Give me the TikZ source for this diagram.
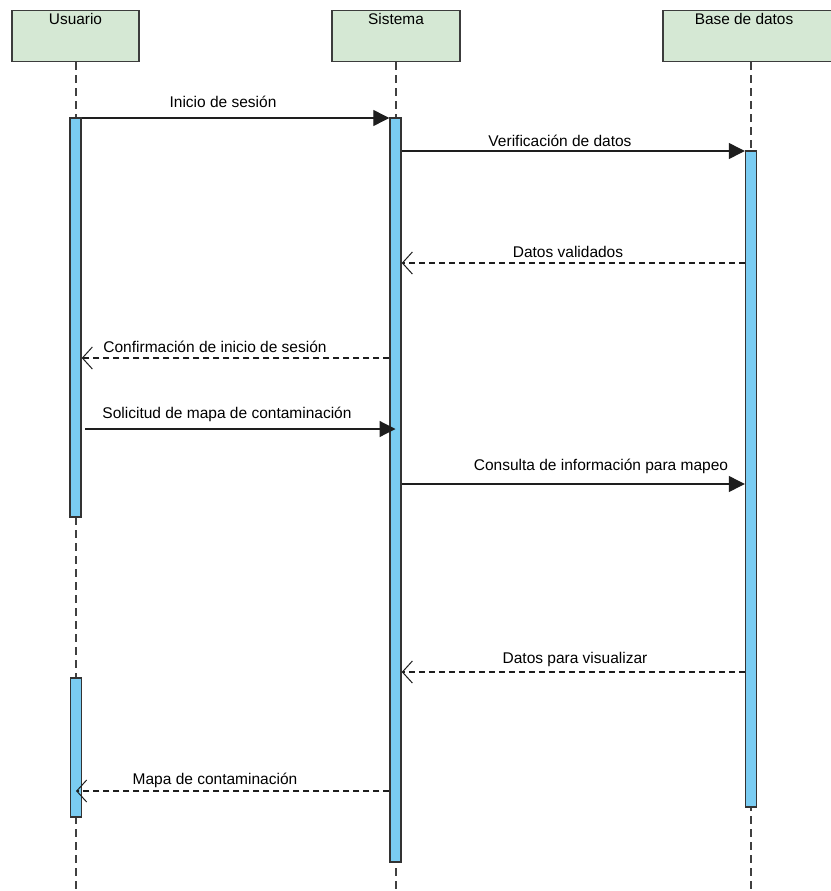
\documentclass[tikz,border=0pt]{standalone}
\usepackage{fontspec}
\setmainfont{Liberation Sans}
\usetikzlibrary{arrows.meta}
\definecolor{hdrfill}{HTML}{D5E8D4}
\definecolor{hdrline}{HTML}{3C3C3C}
\definecolor{actfill}{HTML}{7ACCF2}
\definecolor{actline}{HTML}{333333}
\definecolor{msgline}{HTML}{1E1E1E}
\tikzset{
  hdr/.style={draw=hdrline, fill=hdrfill, line width=1.8pt, minimum height=51pt, inner sep=0pt},
  hdrtxt/.style={font=\fontsize{15.4}{18}\selectfont, anchor=base, inner sep=0pt},
  life/.style={draw=black!75, line width=1.2pt, dash pattern=on 8pt off 5pt},
  act/.style={draw=actline, fill=actfill, line width=1.4pt, minimum width=11pt, inner sep=0pt},
  msg/.style={draw=msgline, line width=1.2pt, -{Triangle[length=16pt,width=16pt]}},
  ret/.style={draw=msgline, line width=1.1pt, dash pattern=on 6pt off 4pt,
              -{Straight Barb[length=10pt,width=22pt,line width=1pt]}},
  lbl/.style={font=\fontsize{15.5}{18}\selectfont, anchor=base, inner sep=0pt}
}
\begin{document}
\begin{tikzpicture}[x=1pt, y=-1pt]
\useasboundingbox[fill=white] (0,0) rectangle (830,891);

% participant heads
\node[hdr, minimum width=127pt] (usr) at (75.5,36) {};
\node[hdr, minimum width=128pt] (sis) at (396,36) {};
\node[hdr, minimum width=174pt] (bdd) at (750,36) {};
\node[hdrtxt] (usrT) at (75.5,25) {Usuario};
\node[hdrtxt] (sisT) at (396,25) {Sistema};
\node[hdrtxt] (bddT) at (744,25) {Base de datos};

% lifelines
\coordinate (usrEnd) at (76,891);
\coordinate (sisEnd) at (396,891);
\coordinate (bddEnd) at (751,891);
\draw[life] (usr.south -| usrEnd) -- (usrEnd);
\draw[life] (sis.south) -- (sisEnd);
\draw[life] (bdd.south -| bddEnd) -- (bddEnd);

% activation bars
\node[act, minimum height=399pt] (ua1) at (75.5,317.5) {};
\node[act, minimum height=139pt] (ua2) at (76,747.5) {};
\node[act, minimum height=744pt] (sa) at (395.5,490) {};
\node[act, minimum height=656pt] (ba) at (751,479) {};

% messages
\draw[msg] (ua1.east |- 0,118) -- (sa.west |- 0,118);
\node[lbl] at (223,107) {Inicio de sesión};

\draw[msg] (sa.east |- 0,151) -- (ba.west |- 0,151);
\node[lbl] at (560,146) {Verificación de datos};

\draw[ret] (ba.west |- 0,263) -- (sa.east |- 0,263);
\node[lbl] at (568,257) {Datos validados};

\draw[ret] (sa.west |- 0,358) -- (ua1.east |- 0,358);
\node[lbl] at (215,352) {Confirmación de inicio de sesión};

\coordinate (solStart) at (85,429);
\draw[msg] (solStart) -- (sa.center |- 0,429);
\node[lbl] at (227,418) {Solicitud de mapa de contaminación};

\draw[msg] (sa.east |- 0,484) -- (ba.west |- 0,484);
\node[lbl] at (601,470) {Consulta de información para mapeo};

\draw[ret] (ba.west |- 0,672) -- (sa.east |- 0,672);
\node[lbl] at (575,663) {Datos para visualizar};

\draw[ret] (sa.west |- 0,791) -- (ua2.center |- 0,791);
\node[lbl] at (215,784) {Mapa de contaminación};
\end{tikzpicture}
\end{document}
